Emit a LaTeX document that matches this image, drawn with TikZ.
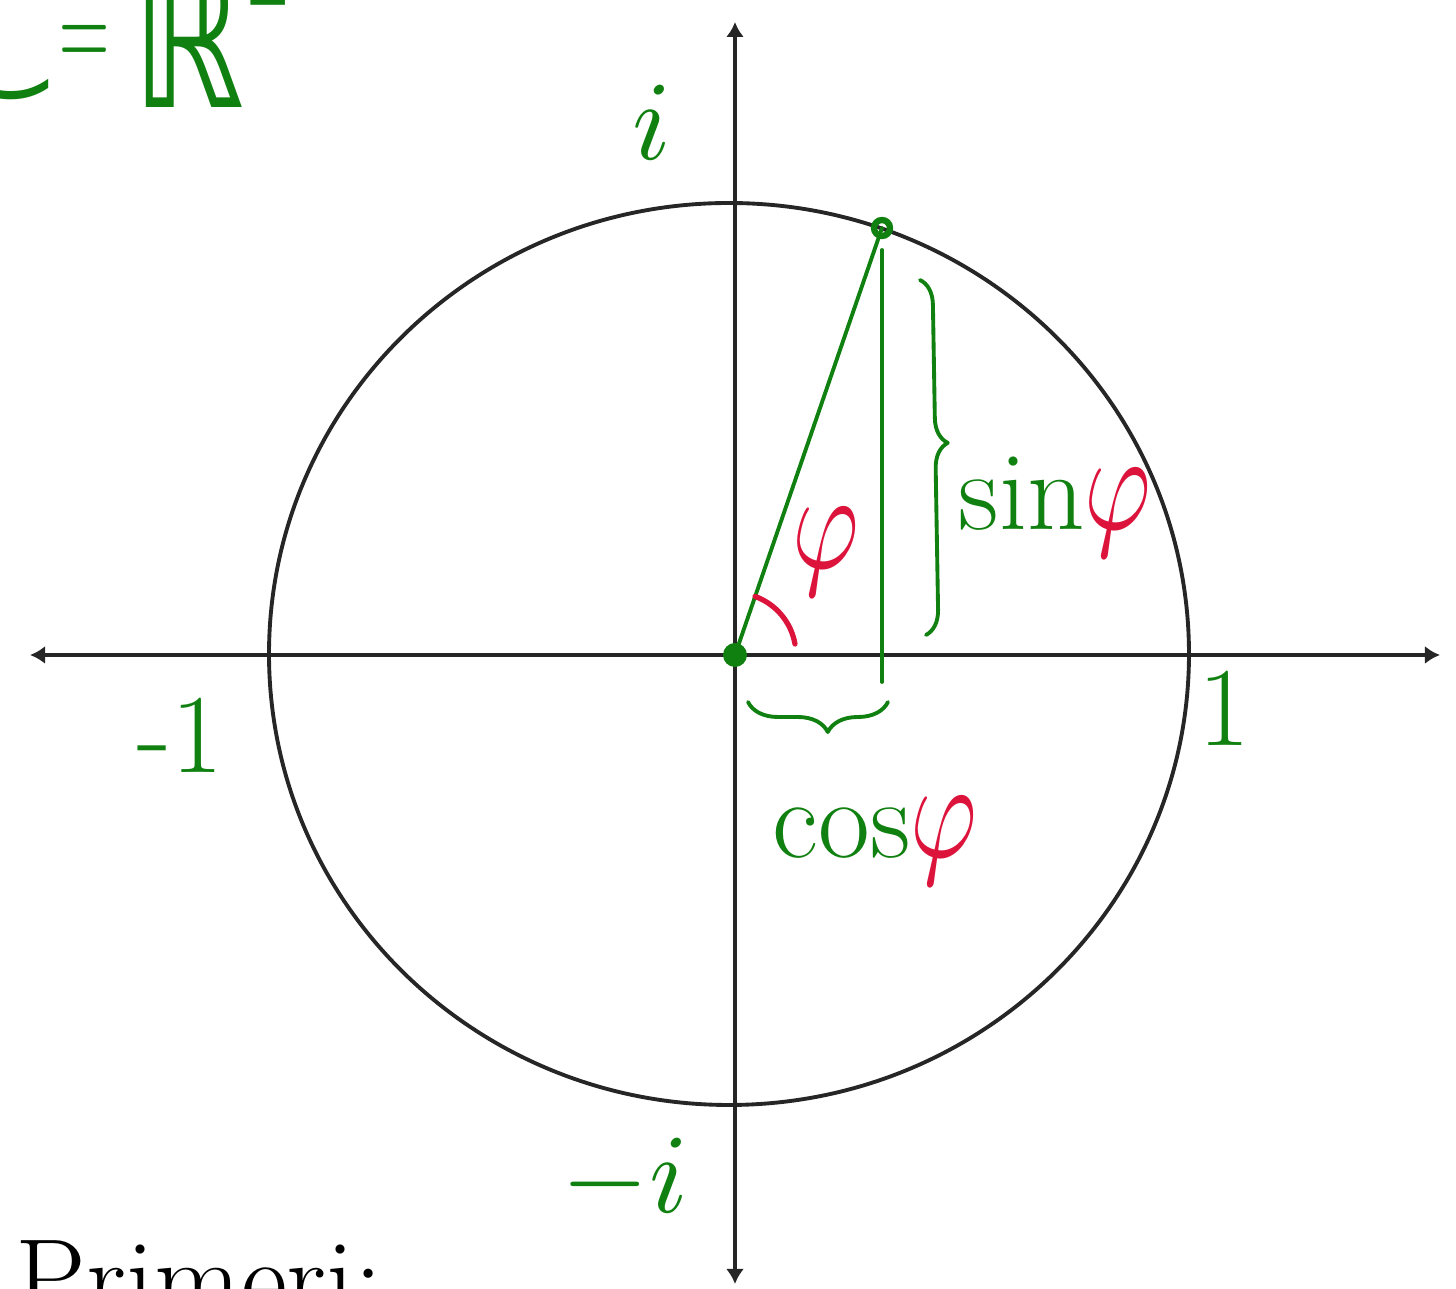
\documentclass[tikz,border=0pt]{standalone}
\usepackage{fontspec}
\newfontfamily\dvs{DejaVu Sans}
\usetikzlibrary{arrows.meta,decorations.pathreplacing}
\definecolor{hgreen}{RGB}{16,128,16}
\definecolor{hred}{RGB}{220,20,60}
\newcommand{\rphi}{\textcolor{hred}{\scalebox{2.9}[4.0]{\normalsize$\varphi$}}}
\newcommand{\bigmath}[1]{\scalebox{3.2}{\normalsize$#1$}}
\begin{document}
\begin{tikzpicture}[x=0.01cm,y=-0.01cm,
  axis/.style={line width=1.2pt, black!85, {Latex[length=1.5mm,width=1.8mm]}-{Latex[length=1.5mm,width=1.8mm]}},
  ink/.style={line width=1.1pt, hgreen, line cap=round, line join=round},
  redink/.style={line width=1.5pt, hred, line cap=round},
  lbl/.style={text=hgreen, font=\fontsize{32}{38}\selectfont, inner sep=0pt},
  note/.style={text=hgreen, inner sep=0pt},
  bracestyle/.style={ink, decorate}
]
\useasboundingbox (0,0) rectangle (1456,1289);
\clip (0,0) rectangle (1456,1289);
% axes and circle
\coordinate (O) at (735,655);
\coordinate (M) at (729,654);
\coordinate (L) at (30,655);
\coordinate (R) at (1440,655);
\coordinate (T) at (735,22);
\coordinate (B) at (735,1284);
\draw[axis] (L) -- (R);
\draw[axis] (B) -- (T);
\draw[line width=1.1pt, black!85] (M) ellipse [x radius=460, y radius=451];
% point on circle and projections
\coordinate (P) at (882,228);
\coordinate (Ptop) at (882,250);
\coordinate (F) at (882,682);
\draw[ink] (O) -- (P);
\draw[ink] (Ptop) -- (F);
\fill[hgreen] (O) circle (12);
\draw[hgreen, line width=1.8pt] (P) circle (8);
% angle arc
\coordinate (A1) at (795,644);
\draw[redink] (A1) arc[start angle=-10, end angle=-70, radius=62];
% braces
\coordinate (S1) at (920,280);
\coordinate (S2) at (926,635);
\draw[bracestyle, decoration={brace, amplitude=0.25cm, aspect=0.46}] (S1) -- (S2);
\coordinate (C1) at (888,702);
\coordinate (C2) at (748,702);
\draw[bracestyle, decoration={brace, amplitude=0.3cm, aspect=0.43}] (C1) -- (C2);
% labels
\node[lbl] (li) at (652,122) {\bigmath{i}};
\node[lbl] (lm1) at (180,735) {-1};
\node[lbl] (l1) at (1224,708) {1};
\node[lbl] (lmi) at (625,1180) {\bigmath{-i}};
\node[inner sep=0pt] (lphi) at (826,552) {\rphi};
\node[lbl, anchor=base west] (lsin) at (958,530) {sin\rphi};
\node[lbl, anchor=base west] (lcos) at (772,858) {cos\rphi};
% cropped notes
\node[note, font=\dvs\fontsize{46}{50}\selectfont, anchor=base east] (lC) at (58,98) {ℂ};
\node[note, font=\fontsize{36}{40}\selectfont] (leq) at (85,48) {\scalebox{0.55}[1]{=}};
\node[note, font=\dvs\fontsize{56}{60}\selectfont, anchor=base west] (lR) at (132,108) {\scalebox{0.72}[1]{ℝ}\raisebox{11pt}{\scalebox{0.6}[1]{²}}};
\node[text=black, font=\fontsize{32}{38}\selectfont, inner sep=0pt, anchor=base west] (lpr) at (15,1318) {Primeri:};
\end{tikzpicture}
\end{document}
